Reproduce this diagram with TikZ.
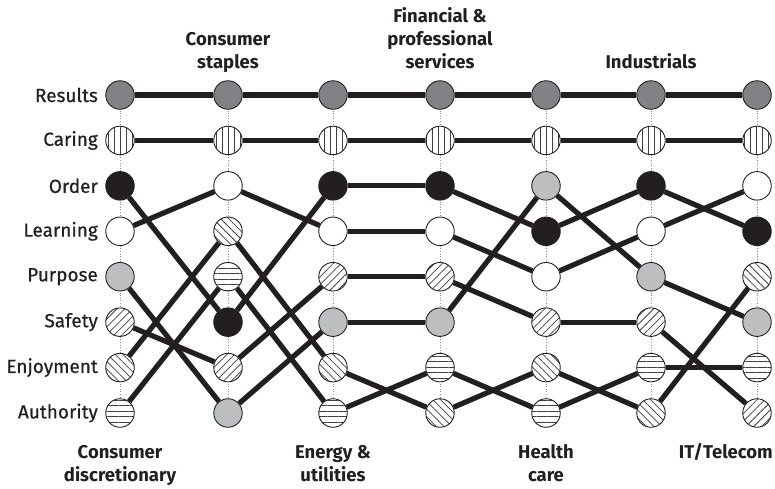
\documentclass[tikz,border=0pt]{standalone}
\usepackage{fontspec}
\setmainfont{Fira Sans}
\newfontfamily\medfont{Fira Sans}[FakeBold=0.6]
\usetikzlibrary{patterns.meta}
\pgfdeclarelayer{bg}
\pgfsetlayers{bg,main}
\definecolor{ink}{HTML}{231F20}
\definecolor{dgray}{HTML}{808285}
\definecolor{lgray}{HTML}{BCBEC0}
\begin{document}
\begin{tikzpicture}[x=1pt, y=-1pt,
  dot/.style={circle, draw=ink, line width=0.9pt, minimum size=28.5pt, inner sep=0pt},
  hatch/.style={dot, preaction={fill=white}, pattern color=black!75},
  vResults/.style={dot, fill=dgray},
  vCaring/.style={hatch, pattern={Lines[angle=90, distance=6pt, line width=0.75pt]}},
  vOrder/.style={dot, fill=ink},
  vLearning/.style={dot, fill=white},
  vPurpose/.style={dot, fill=lgray},
  vSafety/.style={hatch, pattern={Lines[angle=45, distance=5.5pt, line width=0.75pt]}},
  vEnjoyment/.style={hatch, pattern={Lines[angle=-45, distance=5.5pt, line width=0.75pt]}},
  vAuthority/.style={hatch, pattern={Lines[angle=0, distance=5.5pt, line width=0.75pt]}},
  conn/.style={draw=ink, line width=5.2pt},
  guide/.style={draw=black!45, line width=0.6pt, dotted},
  rowlab/.style={anchor=east, inner sep=0pt, font=\medfont\fontsize{19}{22}\selectfont, text=ink},
  head/.style={align=center, inner sep=0pt, font=\bfseries\fontsize{18.5}{23}\selectfont, text=ink}
]
\useasboundingbox (0,0) rectangle (775,488);

% columns of values, top to bottom
\foreach \col/\x/\list in {
  1/120/{Results,Caring,Order,Learning,Purpose,Safety,Enjoyment,Authority},
  2/228/{Results,Caring,Learning,Enjoyment,Authority,Order,Safety,Purpose},
  3/333/{Results,Caring,Order,Learning,Safety,Purpose,Enjoyment,Authority},
  4/440/{Results,Caring,Order,Learning,Safety,Purpose,Authority,Enjoyment},
  5/546/{Results,Caring,Purpose,Order,Learning,Safety,Enjoyment,Authority},
  6/651/{Results,Caring,Order,Learning,Purpose,Safety,Authority,Enjoyment},
  7/757/{Results,Caring,Learning,Order,Enjoyment,Purpose,Authority,Safety}} {
  \foreach \v [count=\r] in \list {
    \node[v\v] (\col\v) at (\x, {95+(\r-1)*45.43}) {};
  }
  \begin{pgfonlayer}{bg}
    \draw[guide] (\x,95) -- (\x,413);
  \end{pgfonlayer}
}

% connectors between neighbouring columns
\begin{pgfonlayer}{bg}
\foreach \a/\b in {1/2,2/3,3/4,4/5,5/6,6/7} {
  \foreach \v in {Results,Caring,Order,Learning,Purpose,Safety,Enjoyment,Authority} {
    \draw[conn] (\a\v) -- (\b\v);
  }
}
\end{pgfonlayer}

% row labels
\foreach \v in {Results,Caring,Order,Learning,Purpose,Safety,Enjoyment,Authority} {
  \node[rowlab] (lab\v) at ([xshift=-22pt]1\v.center) {\v};
}

% column headings
\node[head, anchor=south] (h2) at (228,76) {Consumer\\staples\strut};
\node[head, anchor=south] (h4) at (440,76) {Financial \&\\professional\\services\strut};
\node[head, anchor=south] (h6) at (651,76) {Industrials\strut};
\node[head, anchor=north] (h1) at (120,442) {\strut Consumer\\discretionary};
\node[head, anchor=north] (h3) at (333,442) {\strut Energy \&\\utilities};
\node[head, anchor=north] (h5) at (546,442) {\strut Health\\care};
\node[head, anchor=north east] (h7) at (773,442) {\strut IT/Telecom};
\end{tikzpicture}
\end{document}
